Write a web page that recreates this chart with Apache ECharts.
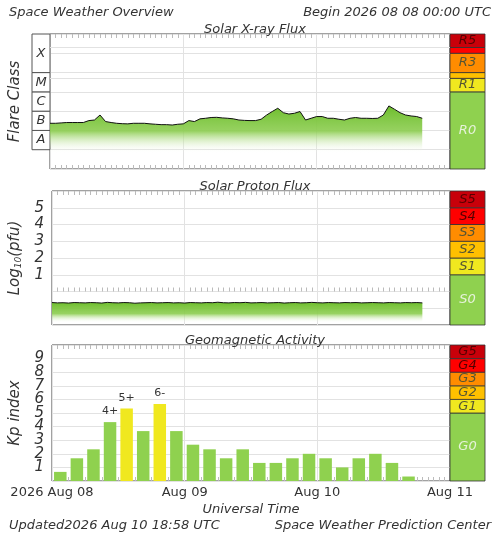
<!DOCTYPE html>
<html><head><meta charset="utf-8">
<script src="https://cdn.jsdelivr.net/npm/echarts@6/dist/echarts.min.js"></script>
<style>html,body{margin:0;padding:0;background:#fff}#c{width:500px;height:533px}</style>
</head><body><div id="c"></div>
<script>
// ---- data ----
var xrayHours = [];
var xrayLog = [-6.63,-6.63,-6.61,-6.59,-6.59,-6.59,-6.59,-6.49,-6.46,-6.20,-6.54,-6.59,-6.63,-6.65,-6.66,-6.63,-6.63,-6.63,-6.66,-6.68,-6.70,-6.70,-6.72,-6.68,-6.66,-6.49,-6.54,-6.40,-6.37,-6.33,-6.32,-6.35,-6.37,-6.40,-6.46,-6.48,-6.49,-6.49,-6.42,-6.20,-6.02,-5.85,-6.08,-6.15,-6.11,-6.02,-6.46,-6.37,-6.28,-6.28,-6.37,-6.37,-6.42,-6.46,-6.37,-6.33,-6.37,-6.37,-6.38,-6.37,-6.20,-5.73,-5.90,-6.08,-6.20,-6.25,-6.28,-6.37];
var protonLog = [-0.66,-0.68,-0.67,-0.69,-0.66,-0.67,-0.68,-0.66,-0.67,-0.69,-0.65,-0.67,-0.68,-0.66,-0.67,-0.70,-0.68,-0.67,-0.66,-0.68,-0.67,-0.66,-0.68,-0.67,-0.69,-0.66,-0.67,-0.68,-0.66,-0.67,-0.64,-0.67,-0.68,-0.66,-0.67,-0.65,-0.68,-0.67,-0.66,-0.68,-0.67,-0.66,-0.69,-0.67,-0.66,-0.68,-0.67,-0.65,-0.67,-0.68,-0.66,-0.67,-0.68,-0.66,-0.67,-0.66,-0.68,-0.67,-0.66,-0.67,-0.68,-0.66,-0.67,-0.68,-0.66,-0.67,-0.66,-0.68];
for (var i = 0; i < xrayLog.length; i++) xrayHours.push(i);
var kpValues = [0.67,1.67,2.33,4.33,5.33,3.67,5.67,3.67,2.67,2.33,1.67,2.33,1.33,1.33,1.67,2.0,1.67,1.0,1.67,2.0,1.33,0.33];
var kpLabels = {3:'4+',4:'5+',6:'6-'};
var dayLabels = ['2026 Aug 08','Aug 09','Aug 10','Aug 11'];
var flareClasses = [['A',-8,-7],['B',-7,-6],['C',-6,-5],['M',-5,-4],['X',-4,-2]];
var rScale = [['R0',-9,-5,'#8fd14f'],['R1',-5,-4.3,'#f0e81f'],['',-4.3,-4,'#ffc000'],['R3',-4,-3,'#ff8c00'],['',-3,-2.7,'#ff0000'],['R5',-2.7,-2,'#c8000a']];
var sScale = [['S0',-2,1,'#8fd14f'],['S1',1,2,'#f0e81f'],['S2',2,3,'#ffc000'],['S3',3,4,'#ff8c00'],['S4',4,5,'#ff0000'],['S5',5,6,'#c8000a']];
var gScale = [['G0',0,5,'#8fd14f'],['G1',5,6,'#f0e81f'],['G2',6,7,'#ffc000'],['G3',7,8,'#ff8c00'],['G4',8,9,'#ff0000'],['G5',9,10,'#c8000a']];

// ---- chart ----
var F = 'DejaVu Sans';
var txt = {fontFamily:F, fontStyle:'italic', color:'#333'};
var panels = [{top:34,h:135,min:-9,max:-2},{top:191,h:134,min:-2,max:6},{top:345,h:136,min:0,max:10}];
var grids=[], xAxes=[], yAxes=[], series=[];
function addGrid(g){grids.push(g);return grids.length-1;}
function bandArea(bands, labelColorFn){
  return bands.map(function(b){return [{yAxis:b[1],name:b[0],itemStyle:{color:b[3],borderColor:'#333',borderWidth:0.8},
    label:{show:!!b[0],position:'inside',fontFamily:F,fontStyle:'italic',fontSize:13,color:labelColorFn(b[0])}},{yAxis:b[2]}];});
}
function lblColor(n){return /0$/.test(n)?'#e6f2da':(/5$|4$/.test(n)?'#500':'#553');}
function fill(a,b){return {type:'linear',x:0,y:0,x2:0,y2:1,colorStops:[{offset:0,color:'rgba(110,190,45,1)'},{offset:a,color:'rgba(140,205,80,0.9)'},{offset:b,color:'rgba(255,255,255,0)'},{offset:1,color:'rgba(255,255,255,0)'}]};}
panels.forEach(function(p,pi){
  var gi = addGrid({left:50,width:400,top:p.top,height:p.h,show:true,borderColor:'#444',borderWidth:1,backgroundColor:'#fff'});
  var last = pi===2;
  xAxes.push({gridIndex:gi,type:'value',min:0,max:72,interval:24,position:'bottom',
    axisLine:{show:false},axisTick:{show:false,inside:true},
    minorTick:{show:true,splitNumber:24,length:4,lineStyle:{color:'#bbb'}},
    splitLine:{show:true,lineStyle:{color:'#e2e2e2'}},
    axisLabel:{show:last,fontFamily:F,fontSize:13,color:'#333',margin:5,formatter:function(v){return dayLabels[v/24];}},
    name:last?'Universal Time':'',nameLocation:'middle',nameGap:22,nameTextStyle:{fontFamily:F,fontStyle:'italic',fontSize:13,color:'#333'}});
  xAxes.push({gridIndex:gi,type:'value',min:0,max:72,interval:24,position:'top',axisLine:{show:false},axisLabel:{show:false},
    axisTick:{show:false,inside:true},minorTick:{show:true,splitNumber:24,length:4,lineStyle:{color:'#bbb'}},splitLine:{show:false}});
  var yname = ['Flare Class','{a|Log}{s|10}{a|(pfu)}','Kp index'][pi];
  yAxes.push({gridIndex:gi,type:'value',min:p.min,max:p.max,interval:1,
    axisLine:{show:false},axisTick:{show:false},
    axisLabel:{show:pi>0,fontFamily:F,fontStyle:'italic',fontSize:15,color:'#333',margin:8,
      formatter:function(v){if(pi===1) return (v>=1&&v<=5)?String(v):''; if(pi===2) return (v>=1&&v<=9)?String(v):''; return '';}},
    splitLine:{show:true,lineStyle:{color:'#e2e2e2'}},
    name:yname,nameLocation:'middle',nameGap:pi===0?27:29,nameRotate:90,
    nameTextStyle:{fontFamily:F,fontStyle:'italic',fontSize:15,color:'#333',rich:{a:{fontFamily:F,fontStyle:'italic',fontSize:15,color:'#333'},s:{fontFamily:F,fontStyle:'italic',fontSize:9,color:'#333',verticalAlign:'bottom'}}}});
  var ri = addGrid({left:450,width:35,top:p.top,height:p.h});
  xAxes.push({gridIndex:ri,type:'value',min:0,max:1,show:false});
  yAxes.push({gridIndex:ri,type:'value',min:p.min,max:p.max,show:false});
  series.push({type:'line',xAxisIndex:xAxes.length-1,yAxisIndex:yAxes.length-1,data:[],silent:true,
    markArea:{silent:true,data:bandArea([rScale,sScale,gScale][pi],lblColor)}});
});
series.push({type:'line',xAxisIndex:0,yAxisIndex:0,data:xrayHours.map(function(h,i){return [h,xrayLog[i]];}),
  showSymbol:false,lineStyle:{color:'#111',width:1},areaStyle:{origin:'start',opacity:1,color:fill(0.4,0.75)},z:3,
  markLine:{silent:true,symbol:'none',label:{show:false},lineStyle:{color:'#e2e2e2',type:'solid',width:1},data:[{yAxis:-2.7},{yAxis:-4.3}]}});
series.push({type:'line',xAxisIndex:3,yAxisIndex:2,data:xrayHours.map(function(h,i){return [h,protonLog[i]];}),
  showSymbol:false,lineStyle:{color:'#111',width:1},areaStyle:{origin:'start',opacity:1,color:fill(0.5,0.9)},z:3});
series.push({type:'bar',xAxisIndex:6,yAxisIndex:4,barWidth:12.5,
  data:kpValues.map(function(v,i){return {value:[1.5+3*i,v],itemStyle:{color:v>=5?'#f0e81f':'#8fd14f'},
    label:{show:!!kpLabels[i],formatter:kpLabels[i]||'',position:'top',fontFamily:F,fontSize:11,color:'#333'}};})});
var fi = addGrid({left:32,width:18,top:34,height:135});
xAxes.push({gridIndex:fi,type:'value',min:0,max:1,show:false});
yAxes.push({gridIndex:fi,type:'value',min:-9,max:-2,show:false});
series.push({type:'line',xAxisIndex:xAxes.length-1,yAxisIndex:yAxes.length-1,data:[],silent:true,
  markArea:{silent:true,data:flareClasses.map(function(c){return [{yAxis:c[1],name:c[0],itemStyle:{color:'#fff',borderColor:'#555',borderWidth:1},
    label:{show:true,position:'inside',fontFamily:F,fontStyle:'italic',fontSize:13,color:'#333'}},{yAxis:c[2]}];})}});

var chart = echarts.init(document.getElementById('c'));
function T(t,pos,size){return Object.assign({text:t,textStyle:Object.assign({fontSize:size,fontWeight:'normal'},txt)},pos);}
chart.setOption({
  animation:false,
  title:[
    T('Space Weather Overview',{left:4,top:1},13),
    T('Begin 2026 08 08 00:00 UTC',{right:4,top:1},13),
    T('Solar X-ray Flux',{left:250,textAlign:'center',top:18},13),
    T('Solar Proton Flux',{left:250,textAlign:'center',top:175},13),
    T('Geomagnetic Activity',{left:250,textAlign:'center',top:329},13),
    T('Updated2026 Aug 10 18:58 UTC',{left:4,top:514},13),
    T('Space Weather Prediction Center',{right:4,top:514},13)
  ],
  grid:grids,xAxis:xAxes,yAxis:yAxes,series:series
});
</script></body></html>
